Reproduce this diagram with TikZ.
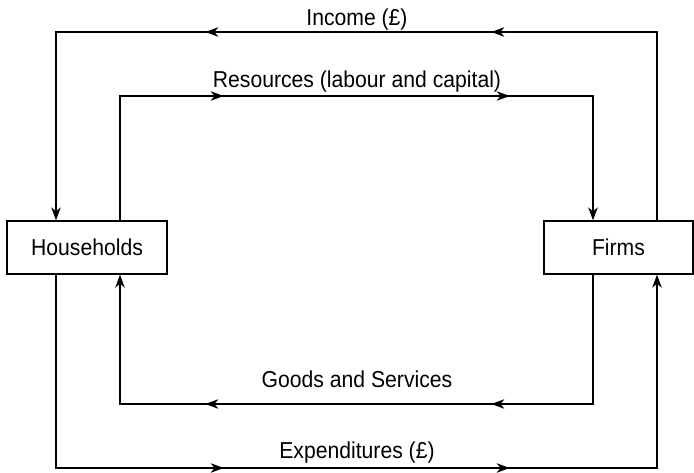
\documentclass[tikz,border=0pt]{standalone}
\usepackage{fontspec}
\setmainfont{Liberation Sans}[FakeStretch=0.92]
\usetikzlibrary{arrows.meta,decorations.markings}
\tikzset{
  tipstyle/.tip={Stealth[length=13pt,width=9.5pt,inset=4pt]},
  flow/.style={line width=1.3pt},
  twomarks/.style 2 args={postaction={decorate,decoration={markings,
      mark=at position #1 with {\arrow{tipstyle}},
      mark=at position #2 with {\arrow{tipstyle}}}}},
  box/.style={draw,line width=1.3pt,minimum height=53pt,inner sep=0pt,
      font=\fontsize{23}{27}\selectfont},
  lbl/.style={anchor=base,inner sep=0pt,font=\fontsize{23}{27}\selectfont}
}
\begin{document}
\begin{tikzpicture}[x=1pt,y=-1pt]
\useasboundingbox (0,0) rectangle (694,472);
\node[box,minimum width=160pt] (H) at (87,247.5) {Households};
\node[box,minimum width=149pt] (F) at (618.5,247.5) {Firms};
% corners
\coordinate (c1) at (657,32);
\coordinate (c2) at (56,32);
\coordinate (c3) at (120,96);
\coordinate (c4) at (593,96);
\coordinate (c5) at (593,404);
\coordinate (c6) at (120,404);
\coordinate (c7) at (56,468);
\coordinate (c8) at (657,468);
% Income
\draw[flow,-{tipstyle},twomarks={354pt}{640pt}]
  (F.north -| c1) -- (c1) -- (c2) -- (H.north -| c2);
% Resources
\draw[flow,-{tipstyle},twomarks={228pt}{514pt}]
  (H.north -| c3) -- (c3) -- (c4) -- (F.north -| c4);
% Goods and Services
\draw[flow,-{tipstyle},twomarks={231pt}{517pt}]
  (F.south -| c5) -- (c5) -- (c6) -- (H.south -| c6);
% Expenditures
\draw[flow,-{tipstyle},twomarks={361pt}{647pt}]
  (H.south -| c7) -- (c7) -- (c8) -- (F.south -| c8);
% labels
\node[lbl] (lInc) at (357,25) {Income (£)};
\node[lbl] (lRes) at (357,87) {Resources (labour and capital)};
\node[lbl] (lGoo) at (357,387) {Goods and Services};
\node[lbl] (lExp) at (357,458) {Expenditures (£)};
\end{tikzpicture}
\end{document}
